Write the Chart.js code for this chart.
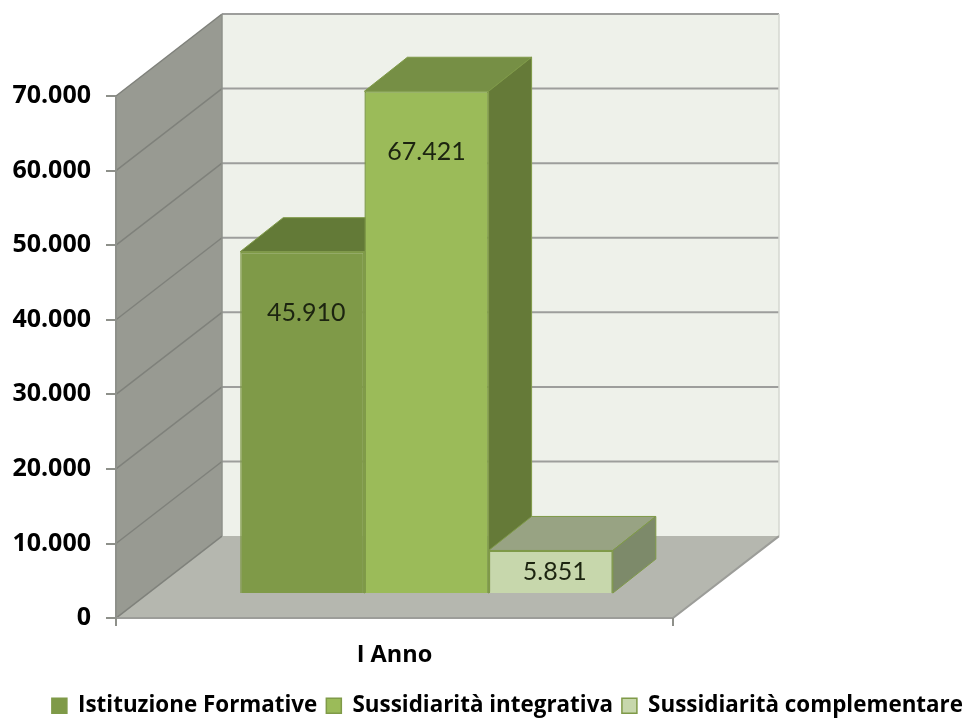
<!DOCTYPE html>
<html><head><meta charset="utf-8">
<style>html,body{margin:0;padding:0;background:#fff}#wrap{width:967px;height:719px}</style>
<script src="https://cdn.jsdelivr.net/npm/chart.js@4"></script>
</head><body><div id="wrap"><canvas id="c" width="967" height="719"></canvas></div>
<script>
const categories = ["I Anno"];
const seriesNames = ["Istituzione Formative", "Sussidiarità integrativa", "Sussidiarità complementare"];
const istituzione = [45910];
const integrativa = [67421];
const complementare = [5851];
const frontColors = ["#7F9A48", "#9BBB59", "#C7D7AC"];
const topColors = ["#637A37", "#768F45", "#98A383"];
const sideColors = ["#62773A", "#657A38", "#7D8A6A"];
const labelNudge = [4, 0, 4];
const borderCol = "#7F9A48";
const yTicksMax = 70000, yStep = 10000;
const wallDepth = {x:106, y:-82};
const barInset = {x:32, y:-24};
const barDepth = {x:43, y:-34};
const fmt = v => String(v).replace(/\B(?=(\d{3})+(?!\d))/g, ".");
function poly(ctx, pts, fill, stroke, lw){
  ctx.beginPath(); pts.forEach((p,i)=> i?ctx.lineTo(p[0],p[1]):ctx.moveTo(p[0],p[1])); ctx.closePath();
  if(fill){ctx.fillStyle=fill;ctx.fill();}
  if(stroke){ctx.strokeStyle=stroke;ctx.lineWidth=lw||1;ctx.stroke();}
}
const scene = {
  id:"scene",
  beforeDraw(chart){
    const {ctx, chartArea:a, scales:{y}} = chart;
    const dx=wallDepth.x, dy=wallDepth.y;
    ctx.save();
    ctx.fillStyle="#fff"; ctx.fillRect(0,0,chart.width,chart.height);
    poly(ctx,[[a.left+dx,a.top+dy],[a.right+dx,a.top+dy],[a.right+dx,a.bottom+dy],[a.left+dx,a.bottom+dy]],"#EEF1EA");
    poly(ctx,[[a.left,a.top],[a.left+dx,a.top+dy],[a.left+dx,a.bottom+dy],[a.left,a.bottom]],"#989A92");
    poly(ctx,[[a.left,a.bottom],[a.left+dx,a.bottom+dy],[a.right+dx,a.bottom+dy],[a.right,a.bottom]],"#B5B7AF");
    y.ticks.forEach(t=>{
      const p=y.getPixelForValue(t.value);
      ctx.strokeStyle="#7F817B"; ctx.lineWidth=1.5;
      ctx.beginPath(); ctx.moveTo(a.left,p); ctx.lineTo(a.left+dx,p+dy); ctx.stroke();
      if(t.value>0){
        ctx.strokeStyle="#9D9E9C"; ctx.lineWidth=2;
        ctx.beginPath(); ctx.moveTo(a.left+dx,p+dy); ctx.lineTo(a.right+dx,p+dy); ctx.stroke();
      }
    });
    ctx.strokeStyle="#8E908A"; ctx.lineWidth=1.5;
    ctx.beginPath(); ctx.moveTo(a.left+dx,a.top+dy); ctx.lineTo(a.left+dx,a.bottom+dy); ctx.stroke();
    ctx.strokeStyle="#D4D7D0"; ctx.lineWidth=1.5;
    ctx.beginPath(); ctx.moveTo(a.right+dx,a.top+dy); ctx.lineTo(a.right+dx,a.bottom+dy); ctx.stroke();
    ctx.strokeStyle="#9C9D99"; ctx.lineWidth=2;
    ctx.beginPath(); ctx.moveTo(a.left,a.bottom); ctx.lineTo(a.right,a.bottom); ctx.lineTo(a.right+dx,a.bottom+dy); ctx.stroke();
    ctx.strokeStyle="#8E908A"; ctx.lineWidth=2;
    ctx.beginPath(); ctx.moveTo(a.left,a.top); ctx.lineTo(a.left,a.bottom+8); ctx.stroke();
    ctx.restore();
  },
  beforeDatasetsDraw(chart){
    const ctx=chart.ctx;
    ctx.save();
    ctx.translate(barInset.x,barInset.y);
    const bx=barDepth.x, by=barDepth.y;
    chart.data.datasets.forEach((ds,i)=>{
      const el=chart.getDatasetMeta(i).data[0];
      const l=el.x-el.width/2, r=el.x+el.width/2, t=el.y, b=el.base;
      poly(ctx,[[l,t],[l+bx,t+by],[r+bx,t+by],[r,t]],topColors[i],borderCol,1);
      poly(ctx,[[r,t],[r+bx,t+by],[r+bx,b+by],[r,b]],sideColors[i],borderCol,1);
    });
    // front faces are drawn by Chart.js inside this translated state
  },
  afterDatasetsDraw(chart){
    const ctx=chart.ctx;
    ctx.textAlign="center"; ctx.textBaseline="middle";
    ctx.font="400 25px Lato";
    ctx.fillStyle="#1c2410";
    chart.data.datasets.forEach((ds,i)=>{
      const el=chart.getDatasetMeta(i).data[0];
      const yy=Math.min(el.y+61,(el.y+el.base)/2);
      ctx.fillText(fmt(ds.data[0]),el.x+labelNudge[i],yy);
    });
    ctx.restore();
  }
};
const bold = {family:"'Open Sans'", weight:"700"};
new Chart(document.getElementById("c"),{
  type:"bar",
  data:{labels:categories,datasets:[
    {label:seriesNames[0],data:istituzione,backgroundColor:frontColors[0],borderColor:borderCol,borderWidth:1.5,clip:false},
    {label:seriesNames[1],data:integrativa,backgroundColor:frontColors[1],borderColor:borderCol,borderWidth:1.5,clip:false},
    {label:seriesNames[2],data:complementare,backgroundColor:frontColors[2],borderColor:borderCol,borderWidth:1.5,clip:false}
  ]},
  options:{
    responsive:false,animation:false,
    layout:{padding:{top:96,bottom:-8,left:0,right:-5}},
    barPercentage:1,categoryPercentage:0.669,
    plugins:{
      tooltip:{enabled:false},
      legend:{position:"bottom",align:"end",labels:{boxWidth:15,boxHeight:15,padding:9,color:"#000",font:{...bold,size:22.4}}}
    },
    scales:{
      x:{grid:{display:true,drawOnChartArea:false,offset:true,color:"#8E908A",lineWidth:2,tickLength:8},border:{display:false},
         ticks:{color:"#000",padding:15,font:{...bold,size:23.5}},afterFit(s){s.height=67.5;}},
      y:{min:0,max:yTicksMax,ticks:{stepSize:yStep,color:"#000",padding:15,font:{...bold,size:25},callback:fmt},
         grid:{display:true,drawOnChartArea:false,color:"#8E908A",lineWidth:2,tickLength:10},border:{display:false},afterFit(s){s.width=116;}},
      r:{position:"right",display:true,min:0,max:1,ticks:{display:false},grid:{display:false},border:{display:false},afterFit(s){s.width=299;}}
    }
  },
  plugins:[scene]
});
</script></body></html>
